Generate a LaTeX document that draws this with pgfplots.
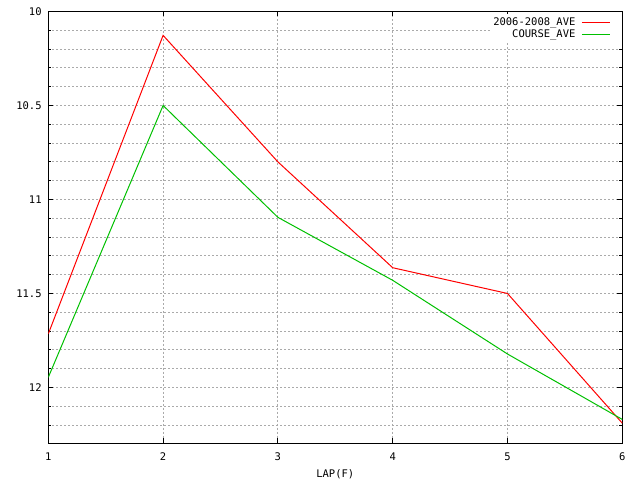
\documentclass[border=0pt]{standalone}
\usepackage{fontspec}
\setmainfont{DejaVu Sans Mono}
\usepackage{pgfplots}
\pgfplotsset{compat=1.18}
\definecolor{gpgreen}{RGB}{0,192,0}
\definecolor{gpgrid}{RGB}{170,170,170}
\begin{document}
\fontsize{10.5bp}{12bp}\selectfont
\begin{tikzpicture}[x=1bp,y=1bp]
\path[use as bounding box] (0,0) rectangle (640,480);
\begin{axis}[
  at={(48.3bp,36.7bp)}, anchor=south west,
  scale only axis, width=574bp, height=431.8bp,
  xmin=1, xmax=6, ymin=10, ymax=12.297,
  y dir=reverse,
  axis line style={black, line width=1bp},
  xtick={1,2,3,4,5,6}, xticklabels={1,2,3,4,5,6},
  ytick={10,10.5,11,11.5,12}, yticklabels={10,10.5,11,11.5,12},
  minor ytick={10.1,10.2,10.3,10.4,10.6,10.7,10.8,10.9,11.1,11.2,11.3,11.4,11.6,11.7,11.8,11.9,12.1,12.2},
  tick style={black, line width=1bp},
  major tick length=5bp, minor tick length=3bp,
  tick align=inside,
  xmajorgrids, ymajorgrids, yminorgrids,
  grid style={gpgrid, line width=0.9bp, dash pattern=on 2bp off 2bp},
  minor grid style={gpgrid, line width=0.9bp, dash pattern=on 2bp off 2bp},
  xticklabel style={yshift=-6bp},
  yticklabel style={xshift=-3bp},
  xlabel={LAP(F)},
  xlabel style={yshift=-1bp},
  ticklabel style={font=\fontsize{10.5bp}{12bp}\selectfont},
  label style={font=\fontsize{10.5bp}{12bp}\selectfont},
  legend style={fill=white, draw=white, line width=0pt, at={(0.9985,0.9985)}, anchor=north east,
    yshift=-2bp,
    font=\fontsize{10.5bp}{12bp}\selectfont, row sep=-1.2bp, inner xsep=1bp, inner ysep=1.5bp},
  legend cell align=right,
  legend plot pos=right,
  legend image code/.code={\path (0bp,0bp) (42bp,0bp); \draw[#1, line width=1bp] (4bp,0bp) -- (32bp,0bp);},
]
\addplot[red, line width=1bp] coordinates {(1,11.715) (2,10.127) (3,10.80) (4,11.363) (5,11.50) (6,12.19)};
\addlegendentry{2006-2008\_AVE}
\addplot[gpgreen, line width=1bp] coordinates {(1,11.946) (2,10.50) (3,11.095) (4,11.43) (5,11.822) (6,12.17)};
\addlegendentry{COURSE\_AVE}
\end{axis}
\end{tikzpicture}
\end{document}
